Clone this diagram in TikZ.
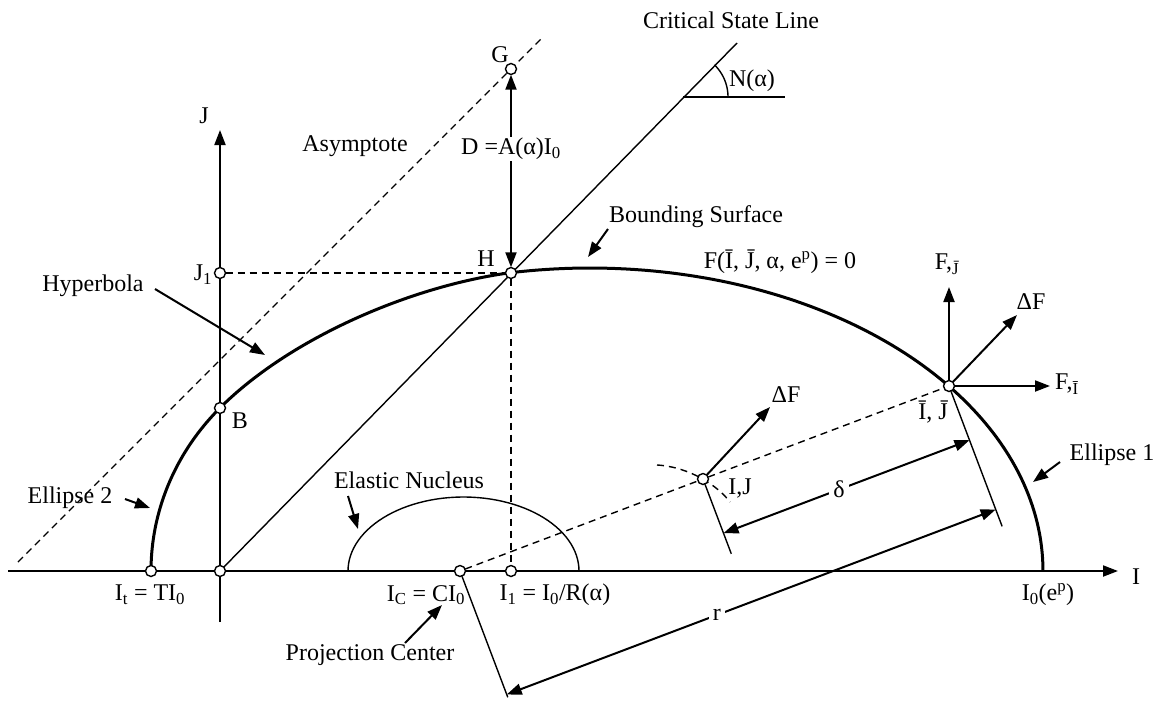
\documentclass[tikz,border=0pt]{standalone}
\usepackage{fontspec}
\setmainfont{Liberation Serif}
\usetikzlibrary{arrows.meta,calc}
\begin{document}
\begin{tikzpicture}[x=1pt,y=-1pt,
  lbl/.style={font=\fontsize{24}{26}\selectfont, inner sep=1pt},
  ptb/.style={circle,inner sep=0pt,minimum size=11pt},
  pt/.style={circle,draw,fill=white,inner sep=0pt,minimum size=11pt,line width=1.4pt},
  arr/.style={-{Triangle[length=15pt,width=11pt]},line width=2pt},
  darr/.style={{Triangle[length=15pt,width=11pt]}-{Triangle[length=15pt,width=11pt]},line width=2pt},
  dsh/.style={dash pattern=on 7pt off 5pt,line width=1.4pt},
  bnd/.style={line width=3pt},
  thinline/.style={line width=1.4pt}]
\useasboundingbox (0,0) rectangle (1163,705);

% points
\node[ptb] (O)  at (220,571) {};
\node[ptb] (It) at (151,571) {};
\node[ptb] (IC) at (460,571) {};
\node[ptb] (I1) at (511,571) {};
\node[ptb] (H)  at (511,273) {};
\node[ptb] (J1) at (220,273) {};
\node[ptb] (B)  at (220,408) {};
\node[ptb] (G)  at (511,69) {};
\node[ptb] (P)  at (949,386) {};
\node[ptb] (Q)  at (703,479) {};

\coordinate (Ileft) at (8,571);
\coordinate (Iend) at (1118,571);
\coordinate (Jbot) at (220,622);
\coordinate (Jend) at (220,130);
\coordinate (CSLtop) at (737,43);
\coordinate (Nv) at (683,97);
\coordinate (Nh) at (785,97);
\coordinate (AsA) at (18,562);
\coordinate (AsB) at (543,37);

% axes
\draw[arr] (Ileft) -- (Iend);
\draw[arr] (Jbot) -- (Jend);
\node[lbl] (Ilab) at (1136,577) {I};
\node[lbl] (Jlab) at (204,116) {J};

% critical state line
\draw[thinline] (O.center) -- (CSLtop);
\draw[thinline] (Nv) -- (Nh);
\draw[thinline] plot[domain=0:45.6,samples=25] ({683+45*cos(\x)},{97-45*sin(\x)});
\node[lbl] (NLab) at (752,81) {N(α)};
\node[lbl] (CSL) at (731,20) {Critical State Line};

% asymptote
\draw[dsh] (AsA) -- (AsB);
\node[lbl] (Asy) at (355,146) {Asymptote};

% dashed helpers
\draw[dsh] (J1) -- (H);
\draw[dsh] (H) -- (I1);

% D arrows
\node[lbl] (D) at (511,149) {D =A(α)I\textsubscript{0}};
\draw[arr] (D.north) -- (G);
\draw[arr] (D.south) -- (H);
\node[lbl] (Glab) at (500,55) {G};
\node[lbl] (Hlab) at (486,259) {H};

% bounding surface
\draw[bnd,line join=round] plot[domain=0:42.8,samples=40] ({410-259*cos(\x)},{571-240*sin(\x)})
  .. controls (290,338) and (411,286) .. (511,272.6)
  -- plot[domain=100.04:0,samples=90] ({590+453*cos(\x)},{571-303*sin(\x)});

% elastic nucleus
\draw[thinline] plot[domain=0:180,samples=60] ({463.5+115.5*cos(\x)},{571-74*sin(\x)});
\node[lbl] (ENlab) at (409,480) {Elastic Nucleus};
\coordinate (ENtail) at (348,496);
\coordinate (ENtip) at (358,529);
\draw[arr] (ENtail) -- (ENtip);

% projection line and loading point
\draw[dsh] (IC) -- (Q);
\draw[dsh] (Q) -- (P);
\coordinate (L1) at (657,465);
\coordinate (L2) at (730,502);
\draw[dsh] (L1) .. controls (690,467) and (718,486) .. (L2);

% extension lines
\coordinate (Cend) at (507.8,697.3);
\coordinate (Qend) at (731.3,553.8);
\coordinate (Pend) at (1002.1,526.3);
\draw[thinline] (IC) -- (Cend);
\draw[thinline] (Q) -- (Qend);
\draw[thinline] (P) -- (Pend);

% delta and r dimension arrows
\coordinate (dA) at (723.5,533.2);
\coordinate (dB) at (969.5,440.2);
\coordinate (rA) at (506.7,694.5);
\coordinate (rB) at (995.7,509.5);
\draw[darr] (dA) -- node[lbl,fill=white,pos=0.47,inner sep=4pt] (dlab) {δ} (dB);
\draw[darr] (rA) -- node[lbl,fill=white,pos=0.43,inner sep=4pt] (rlab) {r} (rB);

% gradient vectors
\coordinate (dFq) at (770,407);
\draw[arr] (Q) -- (dFq);
\node[lbl] (dFqlab) at (786,395) {ΔF};
\node[lbl] (IJlab) at (740,488) {I,J};

\coordinate (FJ) at (949,287);
\coordinate (dFp) at (1017,315);
\coordinate (FI) at (1050,386);
\draw[arr] (P) -- (FJ);
\draw[arr] (P) -- (dFp);
\draw[arr] (P) -- (FI);
\node[lbl] (FJlab) at (947,264) {F,\textsubscript{\=J}};
\node[lbl] (dFplab) at (1031,302) {ΔF};
\node[lbl,anchor=west] (FIlab) at (1054,384) {F,\textsubscript{\=I}};
\node[lbl] (PJlab) at (933,412) {\=I, \=J};

% labels with pointers
\node[lbl] (Feq) at (780,262) {F(\=I, \=J, α, e\textsuperscript{p}) = 0};
\node[lbl] (BSlab) at (696,217) {Bounding Surface};
\coordinate (BStail) at (608,229);
\coordinate (BStip) at (588,257);
\draw[arr] (BStail) -- (BStip);

\node[lbl] (Hyplab) at (93,286) {Hyperbola};
\coordinate (Hyptail) at (155,289);
\coordinate (Hyptip) at (265,355);
\draw[arr] (Hyptail) -- (Hyptip);

\node[lbl] (E2lab) at (70,498) {Ellipse 2};
\coordinate (E2tail) at (125,499);
\coordinate (E2tip) at (150,508);
\draw[arr] (E2tail) -- (E2tip);

\node[lbl] (E1lab) at (1112,455) {Ellipse 1};
\coordinate (E1tail) at (1060,462);
\coordinate (E1tip) at (1033,482);
\draw[arr] (E1tail) -- (E1tip);

\node[lbl] (PClab) at (370,655) {Projection Center};
\coordinate (PCtail) at (405,643);
\coordinate (PCtip) at (442,605);
\draw[arr] (PCtail) -- (PCtip);

% axis labels
\node[lbl] (J1lab) at (203,275) {J\textsubscript{1}};
\node[lbl] (Blab) at (240,421) {B};
\node[lbl] (Itlab) at (150,595) {I\textsubscript{t} = TI\textsubscript{0}};
\node[lbl] (IClab) at (426,595) {I\textsubscript{C} = CI\textsubscript{0}};
\node[lbl] (I1lab) at (555,595) {I\textsubscript{1} = I\textsubscript{0}/R(α)};
\node[lbl] (I0lab) at (1048,595) {I\textsubscript{0}(e\textsuperscript{p})};

% open circles on top
\foreach \n in {O,It,IC,I1,H,J1,B,G,P,Q}
  \node[pt] at (\n) {};
\end{tikzpicture}
\end{document}
